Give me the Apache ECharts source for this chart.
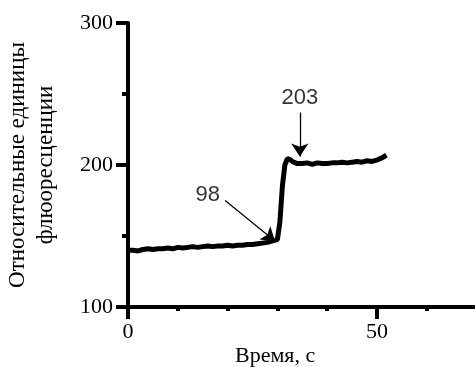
<!DOCTYPE html>
<html>
<head>
<meta charset="utf-8">
<script src="https://cdn.jsdelivr.net/npm/echarts@6/dist/echarts.min.js"></script>
<style>
  html, body { margin: 0; padding: 0; background: #fff; }
  #chart { width: 475px; height: 367px; }
</style>
</head>
<body>
<div id="chart"></div>
<script>
// время, с
const timeSec = [0, 1, 2, 3, 4, 5, 6, 7, 8, 9, 10, 11, 12, 13, 14, 15, 16, 17, 18, 19,
  20, 21, 22, 23, 24, 25, 26, 27, 28, 29, 30, 30.5, 31, 31.5, 32, 32.5, 33, 34, 35, 36,
  37, 38, 39, 40, 41, 42, 43, 44, 45, 46, 47, 48, 49, 50, 51, 51.9];
// относительные единицы флюоресценции
const fluor = [140, 140, 139.5, 140.5, 141, 140.5, 141, 141, 141.5, 141, 142, 141.5, 142, 142.5, 142, 142.5, 143, 142.5, 143, 143,
  143.5, 143, 143.5, 143.5, 144, 144, 144.5, 145, 145.5, 146.5, 147.5, 160, 185, 200, 204.5, 204, 202.5, 201, 201, 201.5,
  200.5, 201.5, 201, 201, 201.5, 201.5, 202, 201.5, 202, 202.5, 202, 203, 202.5, 203.5, 205, 207];

// подписи стрелок
const annLabels = ['98', '203'];
const annFrom = [[19.5, 175], [34.5, 237]];
const annTo = [[29.5, 146.5], [34.5, 206]];
const annText = [[16, 179], [34.5, 247]];

const chart = echarts.init(document.getElementById('chart'));

const serif = '"Liberation Serif", "Times New Roman", serif';
const sans = '"Liberation Sans", Arial, sans-serif';

const option = {
  animation: false,
  grid: { left: 128, top: 23, right: -151, bottom: 60, outerBoundsMode: 'none', containLabel: false },
  xAxis: {
    type: 'value',
    min: 0,
    max: 100,
    interval: 50,
    axisLine: { lineStyle: { color: '#000', width: 4 } },
    axisTick: { length: 12, lineStyle: { color: '#000', width: 4 } },
    minorTick: { show: true, splitNumber: 5, length: 4, lineStyle: { color: '#000', width: 4 } },
    axisLabel: { color: '#000', fontFamily: serif, fontSize: 22, margin: 14 },
    splitLine: { show: false }
  },
  yAxis: {
    type: 'value',
    min: 100,
    max: 300,
    interval: 100,
    name: 'Относительные единицы\nфлюоресценции',
    nameLocation: 'middle',
    nameGap: 68,
    nameTextStyle: { color: '#000', fontFamily: serif, fontSize: 23, lineHeight: 28 },
    axisLine: { lineStyle: { color: '#000', width: 4 } },
    axisTick: { length: 12, lineStyle: { color: '#000', width: 4 } },
    minorTick: { show: true, splitNumber: 2, length: 6, lineStyle: { color: '#000', width: 4 } },
    axisLabel: { color: '#000', fontFamily: serif, fontSize: 22, margin: 15 },
    splitLine: { show: false }
  },
  graphic: [{
    type: 'text',
    left: 235,
    top: 345,
    style: { text: 'Время, с', font: '22px ' + serif, fill: '#000' }
  }],
  series: [
    {
      type: 'line',
      data: timeSec.map((t, i) => [t, fluor[i]]),
      showSymbol: false,
      lineStyle: { color: '#000', width: 5 },
      markLine: {
        silent: true,
        symbol: ['none', 'arrow'],
        symbolSize: 13,
        label: { show: false },
        lineStyle: { color: '#000', width: 1.3, type: 'solid' },
        data: annFrom.map((p, i) => [{ coord: p }, { coord: annTo[i] }])
      }
    },
    {
      type: 'scatter',
      data: annText,
      symbolSize: 1,
      itemStyle: { color: 'rgba(0,0,0,0)' },
      label: {
        show: true,
        position: 'inside',
        color: '#000',
        fontFamily: sans,
        fontSize: 22,
        formatter: (p) => annLabels[p.dataIndex]
      }
    }
  ]
};

chart.setOption(option);
</script>
</body>
</html>
